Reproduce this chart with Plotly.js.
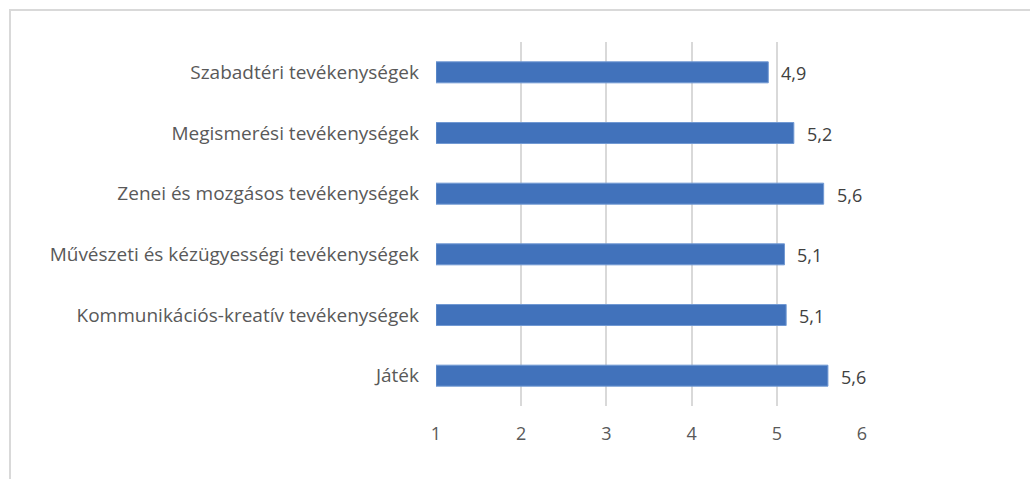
<!DOCTYPE html>
<html>
<head>
<meta charset="utf-8">
<script src="https://cdn.plot.ly/plotly-3.0.1.min.js"></script>
<style>
  html, body { margin: 0; padding: 0; background: #fff; overflow: hidden; }
  #chart { width: 1030px; height: 479px; }
  #frame { position: absolute; left: 9px; top: 9px; width: 1040px; height: 490px;
           border: 2px solid #d9d9d9; pointer-events: none; box-sizing: border-box; }
</style>
</head>
<body>
<div id="chart"></div>
<div id="frame"></div>
<script>
// Data (top to bottom as shown)
const categories = [
  "Szabadtéri tevékenységek",
  "Megismerési tevékenységek",
  "Zenei és mozgásos tevékenységek",
  "Művészeti és kézügyességi tevékenységek",
  "Kommunikációs-kreatív tevékenységek",
  "Játék"
];
const values = [4.9, 5.2, 5.55, 5.09, 5.11, 5.6];
const valueLabels = ["4,9", "5,2", "5,6", "5,1", "5,1", "5,6"];
const xTicks = [1, 2, 3, 4, 5, 6];

const font = "'Open Sans', sans-serif";

const trace = {
  type: "bar",
  orientation: "h",
  y: categories,
  x: values.map(v => v - 1),
  base: 1,
  marker: { color: "#4172bb", line: { color: "#7199d3", width: 1 } },
  hoverinfo: "skip"
};

const annotations = categories.map((c, i) => ({
  x: values[i],
  y: c,
  xref: "x",
  yref: "y",
  text: valueLabels[i],
  showarrow: false,
  xanchor: "left",
  yanchor: "middle",
  xshift: 11,
  yshift: -1,
  font: { family: font, size: 18, color: "#404040" }
}));

const layout = {
  width: 1030,
  height: 479,
  margin: { l: 436, r: 168, t: 42, b: 73 },
  paper_bgcolor: "#ffffff",
  plot_bgcolor: "#ffffff",
  bargap: 0.654,
  showlegend: false,
  font: { family: font, size: 18, color: "#595959" },
  annotations: annotations,
  xaxis: {
    range: [1, 6],
    tickvals: xTicks,
    ticktext: xTicks.map(String),
    showgrid: true,
    gridcolor: "#d9d9d9",
    gridwidth: 2,
    zeroline: false,
    showline: false,
    ticks: "",
    ticklabelstandoff: 15,
    tickfont: { family: font, size: 18, color: "#595959" },
    fixedrange: true
  },
  yaxis: {
    type: "category",
    autorange: "reversed",
    showgrid: false,
    zeroline: false,
    showline: false,
    ticks: "",
    ticklabelstandoff: 16,
    tickfont: { family: font, size: 19, color: "#595959" },
    fixedrange: true
  }
};

Plotly.newPlot("chart", [trace], layout, { displayModeBar: false, staticPlot: true });
</script>
</body>
</html>
